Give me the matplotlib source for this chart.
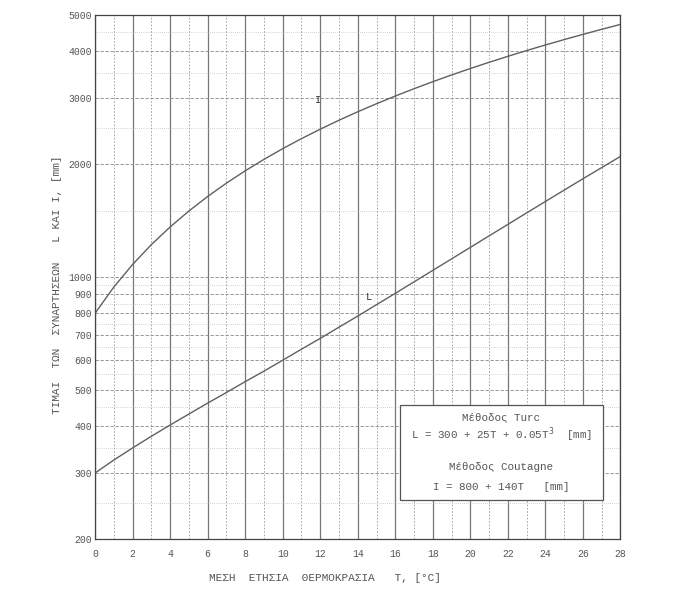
import matplotlib
matplotlib.use("Agg")
import matplotlib.pyplot as plt
from matplotlib.ticker import FixedLocator, NullFormatter
from matplotlib.patches import Rectangle

# Data
T = list(range(0, 29))
L_turc = [300, 325, 350, 376, 403, 431, 461, 492, 526, 561, 600, 642, 686, 735,
          787, 844, 905, 971, 1042, 1118, 1200, 1288, 1382, 1483, 1591, 1706,
          1829, 1959, 2098]
I_coutagne = [800, 940, 1080, 1220, 1360, 1500, 1640, 1780, 1920, 2060, 2200,
              2340, 2480, 2620, 2760, 2900, 3040, 3180, 3320, 3460, 3600, 3740,
              3880, 4020, 4160, 4300, 4440, 4580, 4720]
x_ticks = [0, 2, 4, 6, 8, 10, 12, 14, 16, 18, 20, 22, 24, 26, 28]
y_ticks = [200, 300, 400, 500, 600, 700, 800, 900, 1000, 2000, 3000, 4000, 5000]
y_minor = [250, 350, 450, 550, 650, 750, 850, 950, 1500, 2500, 3500, 4500]

FONT = ["Liberation Mono", "DejaVu Sans Mono"]
TXT = "#555555"
LINE = "#606060"

plt.rcParams["font.family"] = FONT

fig = plt.figure(figsize=(6.96, 6.01), dpi=100)
ax = fig.add_axes([0.1365, 0.103, 0.755, 0.872])

ax.set_yscale("log")
ax.set_xlim(0, 28)
ax.set_ylim(200, 5000)

ax.plot(T, L_turc, color=LINE, lw=1.0)
ax.plot(T, I_coutagne, color=LINE, lw=1.0)

ax.xaxis.set_major_locator(FixedLocator(x_ticks))
ax.xaxis.set_minor_locator(FixedLocator(list(range(1, 28, 2))))
ax.yaxis.set_major_locator(FixedLocator(y_ticks))
ax.yaxis.set_minor_locator(FixedLocator(y_minor))
ax.yaxis.set_minor_formatter(NullFormatter())
ax.set_yticklabels([str(v) for v in y_ticks])
ax.set_xticklabels([str(v) for v in x_ticks])

ax.grid(which="major", axis="x", color="#777777", lw=0.9, ls="-")
ax.grid(which="minor", axis="x", color="#999999", lw=0.6, ls=(0, (2, 2)))
ax.grid(which="major", axis="y", color="#888888", lw=0.6, ls=(0, (4, 2)))
ax.grid(which="minor", axis="y", color="#aaaaaa", lw=0.5, ls=(0, (1, 2)))

ax.tick_params(which="both", length=0, labelsize=7, colors=TXT)
ax.tick_params(axis="x", pad=7)
ax.tick_params(axis="y", pad=2)
for s in ax.spines.values():
    s.set_color("#444444")
    s.set_linewidth(0.9)

ax.set_xlabel("ΜΕΣΗ  ΕΤΗΣΙΑ  ΘΕΡΜΟΚΡΑΣΙΑ   T, [°C]", fontsize=8,
              color=TXT, labelpad=8)
ax.xaxis.set_label_coords(0.438, -0.064)
ax.set_ylabel("ΤΙΜΑΙ  ΤΩΝ  ΣΥΝΑΡΤΗΣΕΩΝ   L ΚΑΙ I, [mm]", fontsize=8,
              color=TXT, labelpad=5)
ax.yaxis.set_label_coords(-0.062, 0.485)

# curve labels
ax.text(11.9, 2970, "I", fontsize=7.5, color="#333333", ha="center", va="center")
ax.text(14.6, 885, "L", fontsize=7.5, color="#333333", ha="center", va="center")

# formula box
ax.add_patch(Rectangle((0.581, 0.074), 0.385, 0.182, transform=ax.transAxes,
                       fc="white", ec="#555555", lw=0.9, zorder=4))
box_lines = [("Μέθοδος Turc", 0.233),
             ("L = 300 + 25T + 0.05T$^{3}$  [mm]", 0.200),
             ("Μέθοδος Coutagne", 0.137),
             ("I = 800 + 140T   [mm]", 0.099)]
for txt, yy in box_lines:
    ax.text(0.7735, yy, txt, transform=ax.transAxes, ha="center", va="center",
            fontsize=7.8, color=TXT, zorder=5)

fig.savefig("out.png", dpi=100)
